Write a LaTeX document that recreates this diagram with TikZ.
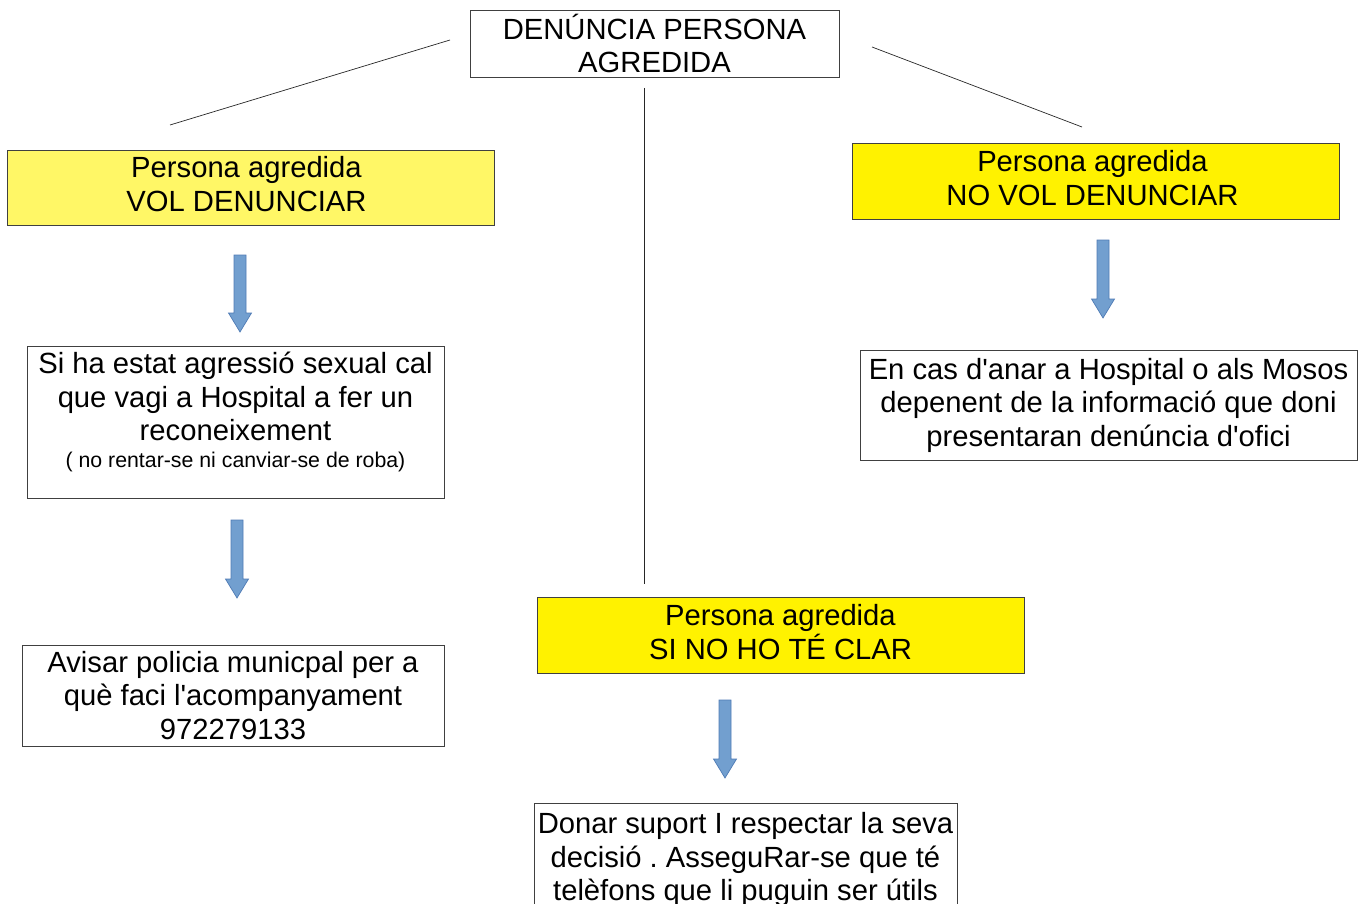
\documentclass[tikz,border=0pt]{standalone}
\usepackage{fontspec}
\setmainfont{Liberation Sans}[Ligatures=TeXOff]
\frenchspacing
\begin{document}
\begin{tikzpicture}[x=1pt,y=-1pt,
  box/.style={draw=black!75,line width=0.8pt,rectangle,inner sep=0pt,align=center,
    font=\fontsize{29.2}{33.5}\selectfont},
  txt/.style={box,draw=none,fill=none},
  ylight/.style={box,fill=yellow!60},
  yfull/.style={box,fill=yellow},
  conn/.style={draw=black!85,line width=0.7pt},
  barrow/.style={fill=arrowblue,draw=arrowedge,line width=0.7pt}]
\definecolor{arrowblue}{HTML}{729FCF}
\definecolor{arrowedge}{HTML}{4F7BB5}
\useasboundingbox (0,0) rectangle (1367,904);
\clip (0,0) rectangle (1367,904);
% nodes
\node[box,minimum width=369,minimum height=67] (top) at (654.5,43.5) {DENÚNCIA PERSONA\\AGREDIDA};
\node[ylight,minimum width=487,minimum height=75] (vol) at (250.5,187.5) {};
\node[txt] (voltxt) at ([xshift=-4pt,yshift=3.5pt]vol.center) {Persona agredida\\VOL DENUNCIAR};
\node[yfull,minimum width=487,minimum height=76] (novol) at (1095.5,181) {};
\node[txt] (novoltxt) at ([xshift=-3pt,yshift=3pt]novol.center) {Persona agredida\\NO VOL DENUNCIAR};
\node[box,minimum width=417,minimum height=152,anchor=north] (sexual) at (235.5,346) {};
\node[txt,anchor=north,yshift=-6pt] (sexualtxt) at (sexual.north) {Si ha estat agressió sexual cal\\que vagi a Hospital a fer un\\reconeixement\\[-7pt]{\fontsize{21.3}{24}\selectfont ( no rentar-se ni canviar-se de roba)}};
\node[box,minimum width=422,minimum height=101] (policia) at (233,695.5) {Avisar policia municpal per a\\què faci l'acompanyament\\972279133};
\node[yfull,minimum width=487,minimum height=76] (clar) at (780.5,635) {};
\node[txt] (clartxt) at ([yshift=3pt]clar.center) {Persona agredida\\SI NO HO TÉ CLAR};
\node[box,minimum width=497,minimum height=110] (hosp) at (1108.5,405) {En cas d'anar a Hospital o als Mosos\\depenent de la informació que doni\\presentaran denúncia d'ofici};
\node[box,minimum width=423,minimum height=130,anchor=north] (suport) at (745.5,803) {};
\node[txt,anchor=north,yshift=-9pt] (suporttxt) at (suport.north) {Donar suport I respectar la seva\\decisió . AsseguRar-se que té\\telèfons que li puguin ser útils};
% connectors
\coordinate (la) at (450,40);
\coordinate (lb) at (170,125);
\coordinate (ma) at (644,88);
\coordinate (mb) at (644,584);
\coordinate (ra) at (872,47);
\coordinate (rb) at (1082,127);
\draw[conn] (la) -- (lb);
\draw[conn] (ma) -- (mb);
\draw[conn] (ra) -- (rb);
% block arrows
\newcommand{\blockarrow}[3]{% x center, top y, tip y
  \draw[barrow] (#1-6,#2) -- (#1+6,#2) -- (#1+6,#3-19) -- (#1+11.5,#3-19) -- (#1,#3) -- (#1-11.5,#3-19) -- (#1-6,#3-19) -- cycle;}
\blockarrow{240}{255}{332}
\blockarrow{237}{520}{598}
\blockarrow{725}{700}{778}
\blockarrow{1103}{240}{318}
\end{tikzpicture}
\end{document}
